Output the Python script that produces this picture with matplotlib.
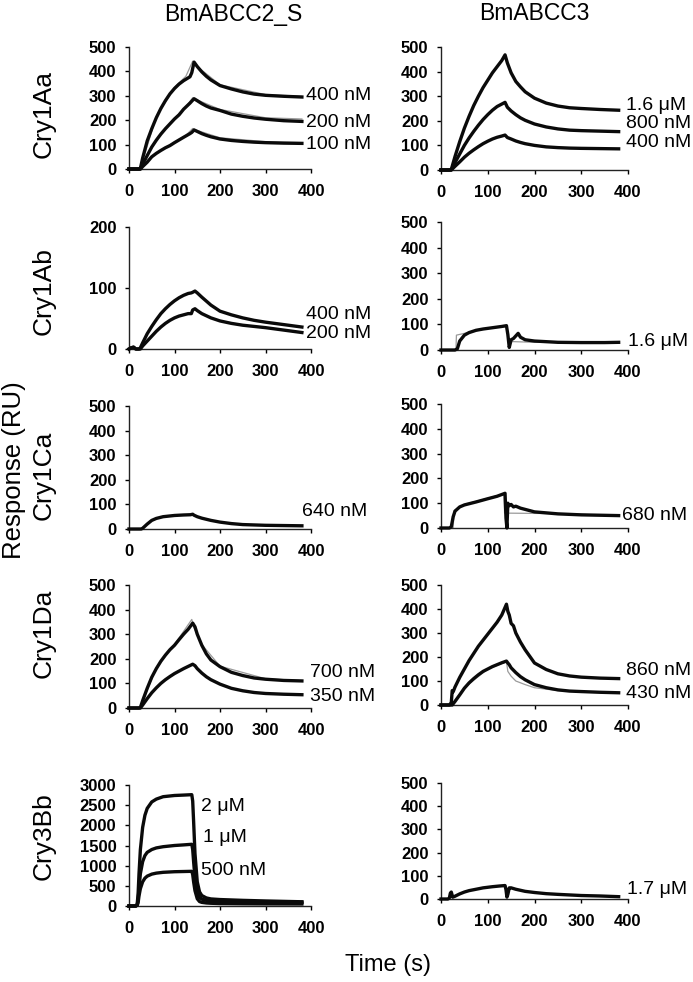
import matplotlib
matplotlib.use("Agg")
import matplotlib.pyplot as plt

plt.rcParams["font.family"] = ["Liberation Sans", "DejaVu Sans"]

# ---- data (time in s, response in RU) ----
col_titles = ["BmABCC2_S", "BmABCC3"]
row_titles = ["Cry1Aa", "Cry1Ab", "Cry1Ca", "Cry1Da", "Cry3Bb"]

# Cry1Aa / BmABCC2_S
t_aa2 = [0, 22, 25, 30, 40, 50, 60, 70, 80, 90, 100, 110, 120, 134, 138, 143, 150, 160, 170, 180, 200, 225, 250, 275, 300, 340, 380]
aa2_400 = [0, 0, 2, 45, 115, 165, 210, 248, 280, 308, 330, 348, 362, 378, 395, 438, 420, 398, 380, 365, 342, 328, 316, 307, 302, 298, 295]
aa2_200 = [0, 0, 0, 20, 55, 90, 118, 143, 165, 185, 205, 222, 245, 270, 278, 288, 280, 268, 258, 250, 240, 225, 216, 209, 204, 198, 195]
aa2_100 = [0, 0, 0, 10, 28, 50, 64, 76, 87, 96, 108, 119, 130, 145, 150, 160, 154, 145, 138, 132, 123, 117, 113, 110, 108, 106, 105]
t_aa2_raw = [0, 22, 25, 60, 100, 125, 140, 150, 200, 300, 380]
aa2_400_raw = [0, 0, 2, 215, 335, 380, 442, 420, 345, 305, 298]
aa2_200_raw = [0, 0, 0, 120, 208, 255, 292, 283, 244, 210, 205]
aa2_100_raw = [0, 0, 0, 66, 110, 138, 166, 158, 128, 112, 108]

# Cry1Aa / BmABCC3
t_aa3 = [0, 18, 22, 30, 40, 50, 60, 70, 80, 90, 100, 110, 120, 130, 137, 142, 150, 160, 170, 180, 200, 225, 250, 275, 300, 340, 380]
aa3_16 = [0, 0, 2, 55, 115, 170, 218, 262, 300, 335, 365, 395, 420, 445, 468, 435, 395, 360, 338, 318, 292, 272, 260, 253, 250, 246, 243]
aa3_800 = [0, 0, 0, 30, 65, 100, 130, 157, 182, 205, 225, 243, 258, 268, 275, 255, 240, 225, 212, 202, 187, 175, 167, 162, 160, 158, 156]
aa3_400 = [0, 0, 0, 15, 33, 52, 68, 82, 95, 107, 117, 126, 133, 138, 142, 132, 126, 118, 112, 107, 100, 94, 91, 89, 88, 87, 86]

# Cry1Ab / BmABCC2_S
t_ab2 = [0, 5, 10, 15, 22, 25, 30, 40, 50, 60, 70, 80, 90, 100, 110, 120, 130, 137, 140, 145, 150, 160, 180, 200, 225, 250, 275, 300, 340, 380]
ab2_400 = [0, 2, 3, 0, 0, 2, 10, 25, 37, 48, 58, 66, 73, 79, 84, 88, 91, 92, 93, 95, 92, 85, 72, 62, 56, 51, 47, 44, 40, 36]
ab2_200 = [0, 2, 3, 0, 0, 0, 5, 13, 21, 29, 36, 42, 47, 51, 54, 56, 58, 58, 64, 66, 63, 58, 51, 46, 42, 39, 37, 35, 31, 27]

# Cry1Ab / BmABCC3
t_ab3 = [0, 30, 35, 40, 50, 60, 75, 90, 110, 130, 140, 143, 146, 150, 155, 160, 165, 170, 180, 200, 250, 300, 350, 380]
ab3_16 = [0, 0, 5, 35, 58, 68, 77, 82, 87, 92, 95, 60, 10, 40, 45, 55, 65, 50, 40, 35, 30, 29, 29, 30]
t_ab3_raw = [0, 32, 33, 50, 100, 140, 145, 150, 200, 380]
ab3_16_raw = [0, 0, 58, 65, 85, 92, 40, 33, 30, 30]

# Cry1Ca / BmABCC2_S
t_ca2 = [0, 27, 30, 40, 50, 60, 75, 90, 100, 120, 135, 140, 143, 150, 160, 180, 200, 225, 250, 300, 340, 380]
ca2_640 = [0, 0, 3, 20, 35, 43, 50, 53, 55, 57, 58, 60, 56, 50, 44, 35, 28, 22, 18, 15, 14, 13]

# Cry1Ca / BmABCC3
t_ca3 = [0, 18, 22, 26, 30, 40, 50, 75, 100, 120, 137, 139, 141, 143, 146, 150, 155, 160, 170, 180, 200, 250, 300, 380]
ca3_680 = [0, 0, 5, 45, 68, 85, 93, 105, 118, 128, 140, 40, 0, 100, 90, 95, 85, 88, 80, 75, 65, 57, 53, 50]
t_ca3_raw = [0, 26, 28, 50, 100, 135, 136, 250, 380]
ca3_680_raw = [0, 0, 70, 95, 120, 138, 60, 58, 50]

# Cry1Da / BmABCC2_S
t_da2 = [0, 22, 25, 30, 40, 50, 60, 70, 80, 90, 100, 110, 120, 130, 140, 145, 150, 160, 170, 180, 200, 225, 250, 275, 300, 340, 380]
da2_700 = [0, 0, 2, 30, 80, 125, 160, 190, 215, 237, 255, 278, 300, 320, 345, 330, 300, 255, 220, 195, 168, 145, 132, 122, 117, 112, 110]
da2_350 = [0, 0, 0, 12, 38, 62, 82, 100, 115, 128, 140, 150, 160, 169, 178, 172, 160, 142, 127, 115, 97, 80, 70, 63, 59, 56, 54]
t_da2_raw = [0, 22, 25, 60, 100, 138, 142, 160, 200, 300, 380]
da2_700_raw = [0, 0, 2, 165, 258, 360, 330, 258, 170, 119, 111]

# Cry1Da / BmABCC3
t_da3 = [0, 18, 22, 24, 26, 30, 40, 50, 60, 70, 80, 90, 100, 110, 120, 130, 140, 143, 146, 150, 155, 160, 170, 180, 200, 225, 250, 275, 300, 340, 380]
da3_860 = [0, 0, 10, 60, 55, 75, 115, 150, 185, 215, 245, 270, 295, 320, 345, 375, 420, 390, 375, 340, 330, 300, 262, 230, 175, 148, 130, 121, 116, 112, 110]
da3_430 = [0, 0, 0, 0, 5, 15, 42, 70, 92, 110, 126, 140, 150, 160, 168, 176, 183, 175, 168, 155, 145, 135, 118, 105, 85, 72, 63, 58, 56, 53, 51]
t_da3_raw = [0, 22, 30, 50, 100, 140, 143, 150, 160, 180, 200, 250, 300, 380]
da3_430_raw = [0, 0, 20, 72, 150, 180, 140, 120, 100, 85, 72, 60, 55, 50]

# Cry3Bb / BmABCC2_S
t_bb2 = [0, 15, 18, 20, 22, 25, 30, 35, 40, 50, 60, 75, 100, 120, 138, 140, 142, 145, 150, 155, 160, 170, 180, 200, 250, 300, 380]
bb2_2000 = [0, 0, 50, 300, 800, 1400, 1950, 2250, 2420, 2580, 2650, 2710, 2740, 2750, 2760, 2600, 2100, 1300, 600, 350, 260, 200, 175, 160, 140, 125, 105]
bb2_1000 = [0, 0, 30, 150, 450, 800, 1100, 1250, 1330, 1400, 1440, 1470, 1500, 1515, 1530, 1400, 1100, 700, 330, 220, 170, 140, 125, 115, 100, 95, 90]
bb2_500 = [0, 0, 15, 80, 250, 430, 600, 690, 740, 790, 815, 835, 850, 855, 860, 780, 600, 380, 180, 110, 90, 75, 68, 60, 55, 52, 50]

# Cry3Bb / BmABCC3
t_bb3 = [0, 15, 18, 20, 22, 25, 30, 40, 50, 60, 75, 90, 110, 125, 137, 139, 141, 143, 146, 150, 160, 180, 200, 225, 250, 300, 340, 380]
bb3_17 = [0, 0, 5, 25, 30, 8, 12, 22, 30, 36, 42, 48, 53, 56, 58, 40, 8, 20, 48, 48, 42, 33, 28, 23, 20, 15, 13, 10]

# ---- figure ----
W, H = 693, 982
fig = plt.figure(figsize=(W / 100, H / 100), dpi=100)

# panel boxes in pixels: (x0, x1, ytop, ybottom)
boxes = [
    [(129, 311, 47, 169), (441, 628, 47, 170)],
    [(129, 311, 227, 349), (441, 628, 222, 350)],
    [(129, 311, 406, 529), (441, 628, 404, 528)],
    [(129, 311, 585, 708), (441, 628, 585, 705)],
    [(129, 311, 785, 906), (441, 628, 783, 899)],
]

BLACK = "#0a0a0a"
GRAY = "#9a9a9a"


def make_ax(box, ymax, ystep):
    x0, x1, yt, yb = box
    ax = fig.add_axes([x0 / W, 1 - yb / H, (x1 - x0) / W, (yb - yt) / H])
    ax.set_xlim(0, 400)
    ax.set_ylim(0, ymax)
    ax.set_xticks(range(0, 401, 100))
    ax.set_yticks(range(0, ymax + 1, ystep))
    for s in ["top", "right"]:
        ax.spines[s].set_visible(False)
    for s in ["left", "bottom"]:
        ax.spines[s].set_linewidth(1.0)
        ax.spines[s].set_color("#222222")
    ax.tick_params(axis="y", direction="out", length=3, width=1, pad=6, labelsize=12)
    ax.tick_params(axis="x", direction="out", length=3, width=1, pad=8, labelsize=12)
    for lab in ax.get_xticklabels() + ax.get_yticklabels():
        lab.set_fontweight("bold")
    return ax


def fit(ax, t, v):
    ax.plot(t, v, color=BLACK, lw=2.4, solid_joinstyle="round", zorder=3, clip_on=False)


def raw(ax, t, v):
    ax.plot(t, v, color=GRAY, lw=0.9, zorder=2, clip_on=False)


def conc(ax, x, y, s):
    ax.text(x, y, s, fontsize=14, ha="left", va="center", clip_on=False)


# Cry1Aa
ax = make_ax(boxes[0][0], 500, 100)
raw(ax, t_aa2_raw, aa2_400_raw)
raw(ax, t_aa2_raw, aa2_200_raw)
raw(ax, t_aa2_raw, aa2_100_raw)
fit(ax, t_aa2, aa2_400)
fit(ax, t_aa2, aa2_200)
fit(ax, t_aa2, aa2_100)
conc(ax, 388, 300, "400 nM")
conc(ax, 388, 191, "200 nM")
conc(ax, 388, 101, "100 nM")

ax = make_ax(boxes[0][1], 500, 100)
fit(ax, t_aa3, aa3_16)
fit(ax, t_aa3, aa3_800)
fit(ax, t_aa3, aa3_400)
conc(ax, 395, 264, "1.6 μM")
conc(ax, 395, 187, "800 nM")
conc(ax, 395, 110, "400 nM")

# Cry1Ab
ax = make_ax(boxes[1][0], 200, 100)
fit(ax, t_ab2, ab2_400)
fit(ax, t_ab2, ab2_200)
conc(ax, 388, 56, "400 nM")
conc(ax, 388, 25, "200 nM")

ax = make_ax(boxes[1][1], 500, 100)
raw(ax, t_ab3_raw, ab3_16_raw)
fit(ax, t_ab3, ab3_16)
conc(ax, 400, 35, "1.6 μM")

# Cry1Ca
ax = make_ax(boxes[2][0], 500, 100)
fit(ax, t_ca2, ca2_640)
conc(ax, 380, 70, "640 nM")

ax = make_ax(boxes[2][1], 500, 100)
raw(ax, t_ca3_raw, ca3_680_raw)
fit(ax, t_ca3, ca3_680)
conc(ax, 387, 52, "680 nM")

# Cry1Da
ax = make_ax(boxes[3][0], 500, 100)
raw(ax, t_da2_raw, da2_700_raw)
fit(ax, t_da2, da2_700)
fit(ax, t_da2, da2_350)
conc(ax, 398, 146, "700 nM")
conc(ax, 398, 45, "350 nM")

ax = make_ax(boxes[3][1], 500, 100)
raw(ax, t_da3_raw, da3_430_raw)
fit(ax, t_da3, da3_860)
fit(ax, t_da3, da3_430)
conc(ax, 395, 145, "860 nM")
conc(ax, 395, 50, "430 nM")

# Cry3Bb
ax = make_ax(boxes[4][0], 3000, 500)
fit(ax, t_bb2, bb2_2000)
fit(ax, t_bb2, bb2_1000)
fit(ax, t_bb2, bb2_500)
conc(ax, 158, 2460, "2 μM")
conc(ax, 162, 1710, "1 μM")
conc(ax, 158, 890, "500 nM")

ax = make_ax(boxes[4][1], 500, 100)
fit(ax, t_bb3, bb3_17)
conc(ax, 397, 39, "1.7 μM")

# titles and labels
fig.text(233 / W, 1 - 14 / H, col_titles[0], fontsize=16.5, ha="center", va="center")
fig.text(534 / W, 1 - 14 / H, col_titles[1], fontsize=16.5, ha="center", va="center")

row_y = [114, 291, 475, 633, 836]
for name, yy in zip(row_titles, row_y):
    fig.text(44 / W, 1 - yy / H, name, fontsize=19, rotation=90, ha="center", va="center")

fig.text(14 / W, 1 - 470 / H, "Response (RU)", fontsize=18.5, rotation=90, ha="center", va="center")
fig.text(388 / W, 1 - 965 / H, "Time (s)", fontsize=17, ha="center", va="center")

fig.savefig("out.png", dpi=100)
